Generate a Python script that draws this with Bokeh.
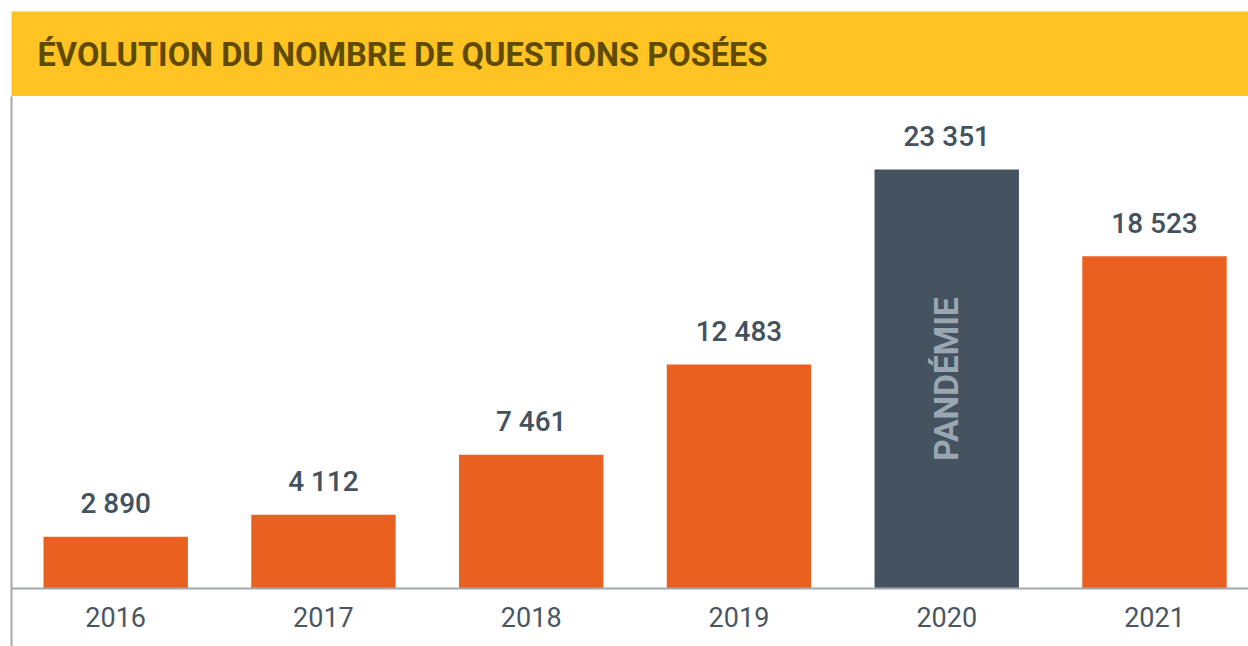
import math
from bokeh.plotting import figure
from bokeh.models import FixedTicker, Range1d, ColumnDataSource, Label
from bokeh.layouts import column
from bokeh.embed import file_html
from bokeh.resources import INLINE
from bokeh.core.properties import value

title = "ÉVOLUTION DU NOMBRE DE QUESTIONS POSÉES"
years = [2016, 2017, 2018, 2019, 2020, 2021]
counts = [2890, 4112, 7461, 12483, 23351, 18523]
highlight_year = 2020
highlight_text = "PANDÉMIE"

ORANGE = "#EA6020"
SLATE = "#44535F"
YELLOW = "#FFC423"
TEXT = "#44525E"
AXIS = "#A3A8AD"

labels = [f"{c:,}".replace(",", " ") for c in counts]
colors = [SLATE if y == highlight_year else ORANGE for y in years]
src = ColumnDataSource(dict(year=years, count=counts, label=labels, color=colors))

# Banner
banner = figure(width=1248, height=96, x_range=Range1d(0, 1237), y_range=Range1d(0, 85),
                x_axis_type=None, y_axis_type=None, toolbar_location=None,
                output_backend="svg", min_border_left=11, min_border_top=11,
                min_border_right=0, min_border_bottom=0)
banner.background_fill_color = YELLOW
banner.border_fill_color = "white"
banner.outline_line_color = None
banner.grid.visible = False
banner.add_layout(Label(x=26, y=42, text=title, text_font="Roboto", text_font_size="32.6px",
                        text_font_style="bold", text_color="#5F4B00", text_baseline="middle"))

# Main chart
p = figure(width=1248, height=550, x_range=Range1d(2015.4985, 2021.4525),
           y_range=Range1d(-3232, 27420), toolbar_location=None, output_backend="svg",
           min_border_left=11, min_border_top=0, min_border_right=0, min_border_bottom=0)
p.outline_line_color = None
p.grid.visible = False
p.background_fill_color = "white"
p.border_fill_color = "white"

p.vbar(x="year", top="count", bottom=0, width=0.695, fill_color="color", line_color=None, source=src)

p.text(x="year", y="count", text="label", source=src, text_align="center",
       text_baseline="alphabetic", y_offset=-33, text_font=value("Roboto Medium"),
       text_font_size="28px", text_color=TEXT)

hi = years.index(highlight_year)
p.text(x=[years[hi]], y=[counts[hi] / 2], text=[highlight_text], angle=math.pi / 2,
       text_align="center", text_baseline="middle", text_font=value("Roboto"),
       text_font_size="33.5px", text_font_style="bold", text_color="#9AA6B1")

xa = p.xaxis[0]
xa.ticker = FixedTicker(ticks=years)
xa.fixed_location = 0
xa.axis_line_color = AXIS
xa.axis_line_width = 2
xa.major_tick_line_color = None
xa.minor_tick_line_color = None
xa.major_tick_out = 0
xa.major_tick_in = 0
xa.major_label_standoff = 18
xa.major_label_text_font = "Roboto"
xa.major_label_text_font_size = "27px"
xa.major_label_text_color = "#4A5763"

ya = p.yaxis[0]
ya.ticker = FixedTicker(ticks=[])
ya.axis_line_color = AXIS
ya.axis_line_width = 2
ya.major_tick_line_color = None
ya.minor_tick_line_color = None
ya.major_tick_out = 0
ya.major_tick_in = 0
ya.major_label_standoff = 0
ya.major_label_text_font_size = "0px"

layout = column(banner, p, spacing=0)
open("out.html", "w").write(file_html(layout, INLINE))
